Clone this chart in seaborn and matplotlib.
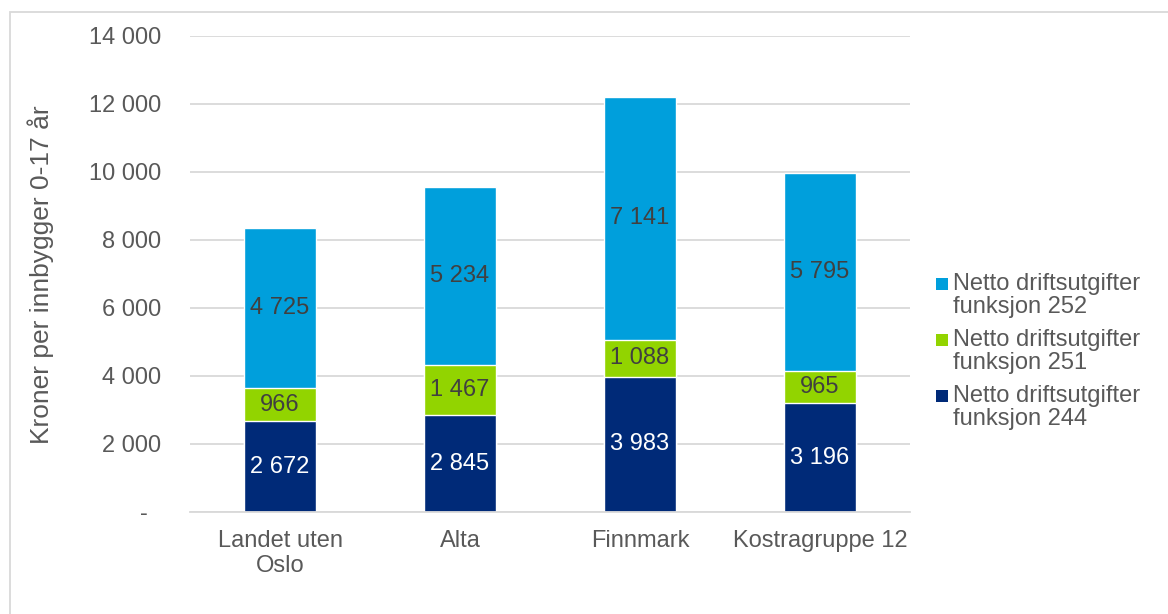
import matplotlib
matplotlib.use("Agg")
import matplotlib.pyplot as plt
from matplotlib.patches import Rectangle
import pandas as pd
import seaborn as sns

# --- DATA ---
kategorier = ["Landet uten\nOslo", "Alta", "Finnmark", "Kostragruppe 12"]
f244 = [2672, 2845, 3983, 3196]
f251 = [966, 1467, 1088, 965]
f252 = [4725, 5234, 7141, 5795]
serier = ["Netto driftsutgifter\nfunksjon 252",
          "Netto driftsutgifter\nfunksjon 251",
          "Netto driftsutgifter\nfunksjon 244"]
yticks = [0, 2000, 4000, 6000, 8000, 10000, 12000, 14000]

C252 = "#009FDC"
C251 = "#92D400"
C244 = "#002A78"
GRID = "#D9D9D9"
TXT = "#595959"
FS = 17

sns.set_theme(style="white")
plt.rcParams['font.family'] = ['Liberation Sans', 'DejaVu Sans']

df = pd.DataFrame({"kat": kategorier, "f244": f244, "f251": f251, "f252": f252})
df["s244"] = df["f244"]
df["s251"] = df["f244"] + df["f251"]
df["s252"] = df["s251"] + df["f252"]

fig = plt.figure(figsize=(11.68, 6.14), dpi=100)
ax = fig.add_axes([190 / 1168, 1 - 512 / 614, 720 / 1168, 476 / 614])

# gestapelte Balken: Summen von oben nach unten überlagern
sns.barplot(data=df, x="kat", y="s252", color=C252, width=0.4, ax=ax, saturation=1, zorder=2)
sns.barplot(data=df, x="kat", y="s251", color=C251, width=0.4, ax=ax, saturation=1, zorder=2)
sns.barplot(data=df, x="kat", y="s244", color=C244, width=0.4, ax=ax, saturation=1, zorder=2)

def fmt(v):
    return f"{v:,}".replace(",", " ")

# Datenlabels
for i, row in df.iterrows():
    ax.text(i, row["f244"] / 2, fmt(row["f244"]),
            ha="center", va="center", color="white", fontsize=FS, zorder=3)
    ax.text(i, row["s244"] + row["f251"] / 2, fmt(row["f251"]),
            ha="center", va="center", color="#404040", fontsize=FS, zorder=3)
    ax.text(i, row["s251"] + row["f252"] / 2, fmt(row["f252"]),
            ha="center", va="center", color="#404040", fontsize=FS, zorder=3)

ax.set_ylim(0, 14000)
ax.set_xlim(-0.5, 3.5)
ax.set_yticks(yticks)
ax.set_yticklabels(["-  "] + [fmt(v) for v in yticks[1:]])
ax.yaxis.grid(True, color=GRID, linewidth=1.3, zorder=0)
ax.set_axisbelow(True)
for s in ["top", "right", "left"]:
    ax.spines[s].set_visible(False)
ax.spines["bottom"].set_color(GRID)
ax.spines["bottom"].set_linewidth(1.3)
ax.tick_params(axis="y", length=0, pad=21, labelsize=FS, labelcolor=TXT)
ax.tick_params(axis="x", length=0, pad=13, labelsize=FS, labelcolor=TXT)
for lab in ax.get_xticklabels():
    lab.set_linespacing(1.15)
ax.set_xlabel("")
ax.set_ylabel("")

fig.text(41 / 1168, 1 - 275 / 614, "Kroner per innbygger 0-17 år", rotation=90,
         ha="center", va="center", fontsize=19, color=TXT)

# Legende (manuell, Quadrat an der ersten Zeile)
for k, (lab, col) in enumerate(zip(serier, [C252, C251, C244])):
    ytop = 273 + k * 56
    fig.patches.append(Rectangle((936 / 1168, 1 - (ytop + 17) / 614), 12 / 1168, 12 / 614,
                                 transform=fig.transFigure, facecolor=col, edgecolor="none"))
    fig.text(953 / 1168, 1 - ytop / 614, lab, ha="left", va="top", fontsize=FS,
             color=TXT, linespacing=1.05)

# Rahmen oben/links
fig.patches.append(Rectangle((10 / 1168, -0.1), 1.2, 1 - 12 / 614 + 0.1,
                             transform=fig.transFigure, facecolor="none",
                             edgecolor=GRID, linewidth=1.3))

fig.savefig("out.png", dpi=100)
